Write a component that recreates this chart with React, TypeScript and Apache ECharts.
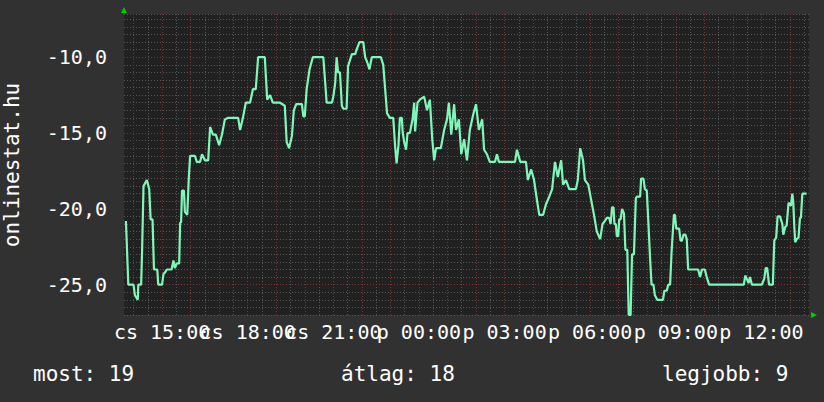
import React, { useEffect, useRef } from 'react';
import * as echarts from 'echarts';

// x = minutes since midnight of the first day (cs), window 13:40 -> next day 13:40
const timeMinutes = [
  824, 826, 829, 840, 843, 849, 850, 856, 858, 861, 868, 873, 876, 880, 883, 890, 892, 900, 903, 906,
  910, 920, 924, 927, 931, 936, 938, 940, 942, 946, 948, 953, 956, 959, 969, 973, 980, 984, 990, 997,
  1001, 1007, 1013, 1020, 1026, 1032, 1039, 1060, 1064, 1070, 1076, 1085, 1091, 1097, 1102, 1116, 1121, 1127, 1133, 1148,
  1158, 1162, 1167, 1173, 1177, 1182, 1194, 1197, 1200, 1204, 1210, 1217, 1239, 1243, 1246, 1257, 1260, 1264, 1267, 1270,
  1274, 1278, 1281, 1288, 1291, 1295, 1299, 1306, 1309, 1315, 1323, 1327, 1331, 1336, 1339, 1341, 1360, 1365, 1369, 1373,
  1379, 1386, 1390, 1393, 1397, 1400, 1404, 1406, 1409, 1413, 1416, 1421, 1427, 1430, 1432, 1437, 1442, 1451, 1457, 1463,
  1468, 1472, 1476, 1486, 1493, 1499, 1503, 1508, 1514, 1518, 1524, 1529, 1535, 1541, 1547, 1554, 1560, 1566, 1573, 1577,
  1583, 1589, 1600, 1604, 1608, 1642, 1646, 1653, 1665, 1669, 1676, 1682, 1688, 1693, 1701, 1707, 1714, 1720, 1726, 1732,
  1739, 1743, 1749, 1756, 1770, 1774, 1779, 1785, 1789, 1796, 1802, 1808, 1814, 1821, 1826, 1831, 1835, 1840, 1843, 1846,
  1849, 1851, 1854, 1856, 1859, 1861, 1864, 1867, 1871, 1874, 1878, 1881, 1885, 1888, 1892, 1896, 1898, 1905, 1907, 1912,
  1915, 1919, 1922, 1926, 1929, 1933, 1936, 1941, 1953, 1956, 1961, 1964, 1968, 1971, 1976, 1978, 1981, 1987, 1990, 1993,
  1996, 2000, 2003, 2006, 2027, 2031, 2035, 2041, 2045, 2050, 2123, 2126, 2129, 2133, 2136, 2140, 2161, 2166, 2169, 2172,
  2176, 2184, 2187, 2191, 2194, 2199, 2204, 2206, 2210, 2213, 2217, 2222, 2225, 2227, 2229, 2231, 2234, 2238, 2241, 2243,
  2246, 2255,
];

const rankValues = [
  -20.8, -22.4, -25, -25, -25.7, -26, -25, -25, -22.8, -18.5, -18.1, -18.7, -20.7, -20.7, -24, -24, -25, -25, -24.3, -24.2,
  -24, -24, -23.4, -23.9, -23.6, -23.6, -20.9, -20.9, -18.8, -18.8, -20.2, -20.4, -18.1, -16.5, -16.5, -16.9, -16.9, -16.4, -16.8, -16.8,
  -14.6, -15.1, -15.1, -15.8, -15.1, -14.1, -14, -14, -14.8, -14, -13, -13, -12.1, -12.1, -10, -10, -12.8, -12.5, -13, -13,
  -13.2, -15.6, -16, -15.2, -13.5, -13.1, -13.1, -13.9, -13.9, -12.1, -10.8, -10, -10, -11.7, -13, -13, -12.6, -11.7, -10, -11,
  -11, -13.2, -13.4, -13.4, -10.6, -10.2, -9.8, -9.8, -9.5, -9, -9, -10, -10.3, -10.8, -10.3, -10, -10, -10.5, -12.1, -13.7,
  -14, -14, -15.9, -17, -15.8, -14, -14, -15, -15.6, -16.1, -15, -15, -14, -13, -14.9, -13, -12.8, -12.6, -13.5, -12.8,
  -15.4, -16.8, -16, -16, -14.8, -14.1, -13, -15.1, -13.1, -14.8, -14.1, -16.4, -15.4, -16.8, -14.8, -13.8, -13.1, -14.8, -14.1, -16.1,
  -16.4, -16.9, -16.9, -16.4, -16.9, -16.9, -16.1, -16.9, -16.9, -18.1, -17.4, -18.1, -19.4, -20.4, -20.4, -19.7, -19.2, -18.7, -16.9, -17.9,
  -16.8, -18.4, -18.1, -18.7, -18.7, -18.1, -16, -16.8, -18.1, -18.4, -19.4, -20.4, -21.5, -22, -21, -20.8, -20.6, -20.6, -21, -19.9,
  -19.9, -21, -21, -21.8, -21.8, -20.7, -20.7, -20, -20.3, -22.7, -22.7, -27, -27, -23, -23, -19.3, -19.2, -19.2, -18, -18,
  -18.7, -18.8, -20.7, -23.3, -25, -25, -25.7, -26, -26, -25.4, -25.4, -25, -25, -22.9, -20.4, -20.4, -21.3, -21.3, -22.1, -22.1,
  -21.7, -21.7, -22, -24, -24, -24.5, -24, -24, -24.5, -25, -25, -24.4, -24.6, -24.9, -24.5, -25, -25, -24.6, -23.9, -23.9,
  -25, -25, -22.1, -21.9, -20.5, -20.5, -21, -21.7, -21.2, -21.1, -19.6, -19.8, -19, -19.6, -21.1, -22.2, -22, -21.9, -20.6, -20.6,
  -19, -19,
];

const xTickMinutes = [900, 1080, 1260, 1440, 1620, 1800, 1980, 2160];
const xTickLabels = ['cs 15:00', 'cs 18:00', 'cs 21:00', 'p 00:00', 'p 03:00', 'p 06:00', 'p 09:00', 'p 12:00'];
const yTickValues = [-25, -20, -15, -10];
const yMajorLines = [-25, -20, -15, -10];

const legendNames = ['most', 'átlag', 'legjobb'];
const legendValues = [19, 18, 9];
const titleText = 'onlinestat.hu';

const X_MIN = 820;
const X_MAX = 2260;

const FONT = 'DejaVu Sans Mono';
const RED = '#7a3434';
const GRAY = '#575757';
const LINE = '#80f7b8';

export default function App() {
  const ref = useRef<HTMLDivElement>(null);
  useEffect(() => {
    const chart = echarts.init(ref.current as HTMLDivElement, null, { renderer: 'svg' });

    const vLines: any[] = [];
    for (let m = Math.ceil(X_MIN / 30) * 30; m < X_MAX; m += 30) {
      vLines.push({
        xAxis: m,
        lineStyle: { color: m % 60 === 0 ? RED : GRAY, type: [1, 2], width: 1 },
      });
    }
    const hLines = yMajorLines.map((v) => ({
      yAxis: v,
      lineStyle: { color: RED, type: [1, 2], width: 1 },
    }));

    const data = timeMinutes.map((t, i) => [t, rankValues[i]]);

    const legendX = [33, 341, 662];

    const makeXAxis = (parity: number) => ({
      type: 'value',
      position: 'bottom',
      offset: 0,
      min: X_MIN,
      max: X_MAX,
      axisLine: { show: false },
      axisTick: { show: false },
      splitLine: { show: false },
      axisLabel: {
        customValues: xTickMinutes.filter((_, i) => i % 2 === parity),
        formatter: (v: number) => {
          const i = xTickMinutes.indexOf(Math.round(v));
          return i >= 0 ? xTickLabels[i] : '';
        },
        showMinLabel: true,
        showMaxLabel: true,
        hideOverlap: false,
        color: '#ffffff',
        fontFamily: FONT,
        fontSize: 20,
        margin: 7,
      },
    });

    chart.setOption({
      animation: false,
      backgroundColor: '#313131',
      grid: {
        left: 124,
        top: 14,
        width: 685,
        height: 301,
        show: true,
        backgroundColor: '#212121',
        borderWidth: 0,
      },
      xAxis: [makeXAxis(0), makeXAxis(1)],
      yAxis: {
        type: 'value',
        min: -27,
        max: -7.15,
        interval: 0.5,
        axisLine: { show: false },
        axisTick: { show: false },
        splitLine: { show: true, lineStyle: { color: GRAY, type: [1, 2], width: 1 } },
        axisLabel: {
          customValues: yTickValues,
          formatter: (v: number) => v.toFixed(1).replace('.', ','),
          showMinLabel: true,
          showMaxLabel: true,
          color: '#ffffff',
          fontFamily: FONT,
          fontSize: 20,
          margin: 17,
        },
      },
      graphic: [
        {
          type: 'text',
          x: 12,
          y: 165,
          rotation: Math.PI / 2,
          style: {
            text: titleText,
            fill: '#ffffff',
            font: `21px "${FONT}"`,
            align: 'center',
            verticalAlign: 'middle',
          },
        },
        ...legendNames.map((n, i) => ({
          type: 'text',
          x: legendX[i],
          y: 374,
          style: {
            text: `${n}: ${legendValues[i]}`,
            fill: '#ffffff',
            font: `21px "${FONT}"`,
            align: 'left',
            verticalAlign: 'middle',
          },
        })),
        {
          type: 'polygon',
          shape: { points: [[121, 13], [127, 13], [124, 7]] },
          style: { fill: '#00cc00' },
        },
        {
          type: 'polygon',
          shape: { points: [[811, 312], [811, 318], [817, 315]] },
          style: { fill: '#00cc00' },
        },
      ],
      series: [
        {
          type: 'line',
          data: [],
          xAxisIndex: 0,
          silent: true,
          z: 1,
          markLine: {
            silent: true,
            symbol: ['none', 'none'],
            label: { show: false },
            emphasis: { disabled: true },
            data: [...vLines, ...hLines],
          },
        },
        {
          type: 'line',
          data,
          xAxisIndex: 0,
          showSymbol: false,
          z: 5,
          lineStyle: { color: LINE, width: 2.2 },
        },
      ],
    });
    return () => chart.dispose();
  }, []);
  return <div ref={ref} style={{ position: 'fixed', left: 0, top: 0, width: 824, height: 402 }} />;
}
